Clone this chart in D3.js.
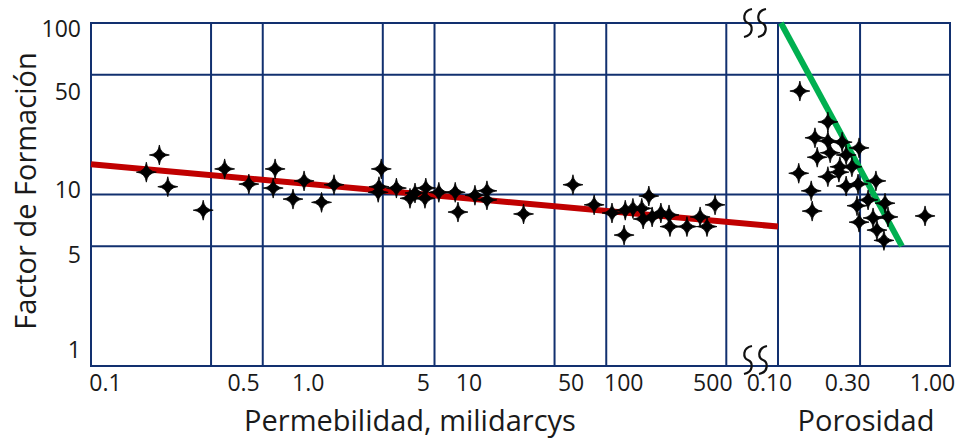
<!DOCTYPE html>
<html>
<head>
<meta charset="utf-8">
<script src="https://cdn.jsdelivr.net/npm/d3@7"></script>
<style>
  body { margin: 0; background: #fff; }
  text { font-family: "Open Sans", "Noto Sans", sans-serif; fill: #1a1a1a; }
</style>
</head>
<body>
<div id="display"></div>
<script>

// permeability samples (md) and formation factor
var permK = [0.21, 0.25, 0.28, 0.45, 0.6, 0.83, 1.18, 1.15, 1.5, 1.74, 2.2, 2.6,
             4.9, 4.75, 4.7, 6.0, 7.2, 7.7, 8.9, 8.8, 10.6, 13.2, 13.7, 17.2, 20.2, 20.2,
             33, 64, 85, 108, 127, 129, 143, 161, 177, 164, 185, 208, 232, 235, 295, 352, 386, 430];
var permF = [13.5, 17.0, 11.1, 8.1, 14.1, 11.5, 14.1, 10.9, 9.4, 12.0, 9.0, 11.4,
             14.1, 11.1, 10.3, 10.9, 9.5, 10.2, 10.9, 9.5, 10.3, 10.3, 7.9, 9.9, 10.5, 9.3,
             7.7, 11.4, 8.7, 7.8, 5.8, 8.1, 8.3, 8.3, 9.8, 7.2, 7.4, 7.8, 7.6, 6.5, 6.5, 7.4, 6.5, 8.7];

// porosity samples (fraction) and formation factor
var poroPhi = [0.134, 0.195, 0.164, 0.195, 0.236, 0.296, 0.169, 0.201, 0.249, 0.132,
               0.229, 0.269, 0.195, 0.226, 0.249, 0.292, 0.371, 0.156, 0.158, 0.288,
               0.334, 0.419, 0.296, 0.357, 0.436, 0.376, 0.413, 0.716];
var poroF = [40.1, 26.5, 21.4, 20.5, 20.2, 18.7, 16.5, 17.5, 17.0, 13.3,
             14.5, 14.5, 12.7, 13.5, 11.2, 11.5, 12.0, 10.5, 8.0, 8.6,
             9.3, 8.9, 6.9, 7.3, 7.4, 6.2, 5.4, 7.5];

// trend lines
var redLineK = [0.1, 1000];
var redLineF = [15, 6.5];
var greenLinePhi = [0.104, 0.525];
var greenLineF = [100, 5];

// ticks
var permTicks = [0.1, 0.5, 1, 5, 10, 50, 100, 500];
var permTickLabels = ["0.1", "0.5", "1.0", "5", "10", "50", "100", "500"];
var poroTicks = [0.1, 0.3, 1];
var poroTickLabels = ["0.10", "0.30", "1.00"];
var fTicks = [1, 5, 10, 50, 100];
var fTickLabels = ["1", "5", "10", "50", "100"];

// grid
var permGrid = [0.5, 1, 5, 10, 50, 100, 500, 1000];
var poroGrid = [0.3];
var fGrid = [5, 10, 50];

// the labels in the original sit a bit off their grid lines
var permLabelShift = [14, 32, 45, 40, 34, 16, 17, -14];
var poroLabelShift = [-9, -13, -18];
var fLabelShift = [-16, 9, -4.5, 17, 6.5];

var gridColor = "#12306f";

var xPerm = d3.scaleLog().domain([0.1, 1000]).range([91, 778]);
var xPoro = d3.scaleLog().domain([0.1, 1]).range([778, 950]);
var yF = d3.scaleLog().domain([1, 100]).range([366, 23]);

var svg = d3.select("#display")
    .append("svg")
        .attr("width", 959)
        .attr("height", 440);

// grid lines
svg.selectAll(".vgrid")
    .data(permGrid.map(function(d){ return xPerm(d); }).concat(poroGrid.map(function(d){ return xPoro(d); })))
    .enter()
    .append("line")
    .attr("x1", function(d){ return d; })
    .attr("x2", function(d){ return d; })
    .attr("y1", yF(100))
    .attr("y2", yF(1))
    .attr("stroke", gridColor)
    .attr("stroke-width", 2);

svg.selectAll(".hgrid")
    .data(fGrid)
    .enter()
    .append("line")
    .attr("x1", xPerm(0.1))
    .attr("x2", xPoro(1))
    .attr("y1", function(d){ return yF(d); })
    .attr("y2", function(d){ return yF(d); })
    .attr("stroke", gridColor)
    .attr("stroke-width", 2);

svg.append("rect")
    .attr("x", xPerm(0.1))
    .attr("y", yF(100))
    .attr("width", xPoro(1) - xPerm(0.1))
    .attr("height", yF(1) - yF(100))
    .attr("fill", "none")
    .attr("stroke", gridColor)
    .attr("stroke-width", 2);

// axes (labels only)
var xaxis = d3.axisBottom(xPerm).tickValues(permTicks)
    .tickFormat(function(d, i){ return permTickLabels[i]; })
    .tickSize(0).tickPadding(9);
var gx = svg.append("g").attr("transform", "translate(0," + yF(1) + ")").call(xaxis);
gx.selectAll("text").attr("x", function(d, i){ return permLabelShift[i]; });

var paxis = d3.axisBottom(xPoro).tickValues(poroTicks)
    .tickFormat(function(d, i){ return poroTickLabels[i]; })
    .tickSize(0).tickPadding(9);
var gp = svg.append("g").attr("transform", "translate(0," + yF(1) + ")").call(paxis);
gp.selectAll("text").attr("x", function(d, i){ return poroLabelShift[i]; });

var yaxis = d3.axisLeft(yF).tickValues(fTicks)
    .tickFormat(function(d, i){ return fTickLabels[i]; })
    .tickSize(0).tickPadding(10);
var gy = svg.append("g").attr("transform", "translate(" + xPerm(0.1) + ",0)").call(yaxis);
gy.selectAll("text").attr("y", function(d, i){ return fLabelShift[i]; });

[gx, gp, gy].forEach(function(g){
    g.select(".domain").remove();
    g.selectAll("text").attr("font-size", 23).attr("fill", "#1a1a1a");
    g.attr("font-family", null);
});

// trend lines
var redLine = d3.line()
    .x(function(d){ return xPerm(d[0]); })
    .y(function(d){ return yF(d[1]); });
svg.append("path")
    .attr("d", redLine(d3.zip(redLineK, redLineF)))
    .attr("stroke", "#c00000")
    .attr("stroke-width", 6)
    .attr("fill", "none");

var greenLine = d3.line()
    .x(function(d){ return xPoro(d[0]); })
    .y(function(d){ return yF(d[1]); });
svg.append("path")
    .attr("d", greenLine(d3.zip(greenLinePhi, greenLineF)))
    .attr("stroke", "#00b050")
    .attr("stroke-width", 6)
    .attr("fill", "none");

// four point star marker
var star4 = {
    draw: function(ctx, size) {
        var r = Math.sqrt(size), c = r * 0.09;
        ctx.moveTo(0, -r);
        ctx.quadraticCurveTo(c, -c, r, 0);
        ctx.quadraticCurveTo(c, c, 0, r);
        ctx.quadraticCurveTo(-c, c, -r, 0);
        ctx.quadraticCurveTo(-c, -c, 0, -r);
        ctx.closePath();
    }
};
var starPath = d3.symbol().type(star4).size(100);

var defs = svg.append("defs");
defs.append("filter").attr("id", "soft")
    .append("feGaussianBlur").attr("stdDeviation", 0.55);

svg.selectAll(".kstar")
    .data(d3.zip(permK, permF))
    .enter()
    .append("path")
    .attr("d", starPath)
    .attr("transform", function(d){ return "translate(" + xPerm(d[0]) + "," + yF(d[1]) + ")"; })
    .attr("fill", "#000")
    .attr("stroke", "#000")
    .attr("stroke-width", 0.8)
    .attr("filter", "url(#soft)");

svg.selectAll(".pstar")
    .data(d3.zip(poroPhi, poroF))
    .enter()
    .append("path")
    .attr("d", starPath)
    .attr("transform", function(d){ return "translate(" + xPoro(d[0]) + "," + yF(d[1]) + ")"; })
    .attr("fill", "#000")
    .attr("stroke", "#000")
    .attr("stroke-width", 0.8)
    .attr("filter", "url(#soft)");

// axis break marks
function squiggle(x, y0) {
    var p = d3.path();
    p.moveTo(x + 4, y0);
    p.bezierCurveTo(x - 6, y0 + 2, x - 5, y0 + 12, x, y0 + 14);
    p.bezierCurveTo(x + 5, y0 + 16, x + 6, y0 + 26, x - 4, y0 + 28);
    return p.toString();
}
var xb = xPerm(1000);
[[xb - 30, 9], [xb - 16, 9], [xb - 30, 346], [xb - 15, 346]].forEach(function(s){
    svg.append("path")
        .attr("d", squiggle(s[0], s[1]))
        .attr("stroke", "#111")
        .attr("stroke-width", 2.2)
        .attr("fill", "none");
});

// titles
svg.append("text")
    .attr("x", 410).attr("y", 431)
    .attr("text-anchor", "middle")
    .attr("font-size", 29)
    .text("Permebilidad, milidarcys");

svg.append("text")
    .attr("x", 866).attr("y", 431)
    .attr("text-anchor", "middle")
    .attr("font-size", 29)
    .text("Porosidad");

svg.append("text")
    .attr("transform", "translate(36,191) rotate(-90)")
    .attr("text-anchor", "middle")
    .attr("font-size", 29)
    .text("Factor de Formación");

</script>
</body>
</html>
